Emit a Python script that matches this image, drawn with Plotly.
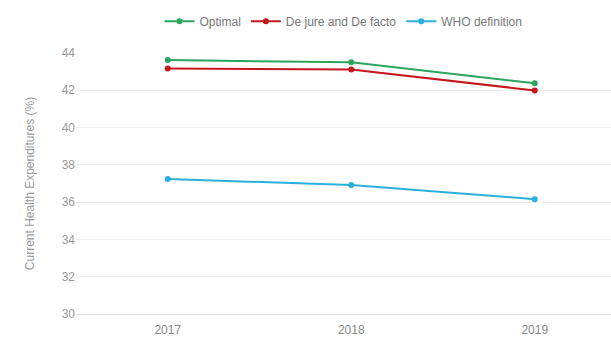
import plotly.graph_objects as go

years = ["2017", "2018", "2019"]
optimal = [43.62, 43.50, 42.38]
de_jure_facto = [43.17, 43.12, 41.99]
who_definition = [37.24, 36.92, 36.16]

series = [
    ("Optimal", optimal, "#2ba55e"),
    ("De jure and De facto", de_jure_facto, "#c4161c"),
    ("WHO definition", who_definition, "#2ab0dc"),
]

fig = go.Figure()
for name, values, color in series:
    fig.add_trace(go.Scatter(
        x=years, y=values, name=name, mode="lines+markers",
        line=dict(color=color, width=2),
        marker=dict(color=color, size=6),
    ))

fig.update_layout(
    width=611, height=338,
    margin=dict(l=76, r=0, t=53, b=24, autoexpand=False),
    paper_bgcolor="white", plot_bgcolor="white",
    font=dict(family="Liberation Sans, Arial, sans-serif", size=12, color="#999999"),
    legend=dict(
        orientation="h", x=0.5, xanchor="center",
        y=0.98, yanchor="top", yref="container", itemwidth=30,
        font=dict(size=12, color="#777777"),
        tracegroupgap=0,
    ),
    xaxis=dict(
        type="category", range=[-0.5, 2.4155], automargin=False,
        showgrid=False, showline=True, linecolor="#dddddd", linewidth=1,
        ticks="", ticklabelstandoff=5, tickfont=dict(size=12, color="#888888"),
    ),
    yaxis=dict(
        range=[30, 44], dtick=2, tick0=30, automargin=False,
        showgrid=True, gridcolor="#eeeeee", gridwidth=1,
        zeroline=False, showline=False, ticks="",
        tickfont=dict(size=12, color="#999999"),
        title=dict(text="Current Health Expenditures (%)", standoff=24,
                   font=dict(size=12, color="#999999")),
    ),
)

fig.write_html("out.html")
